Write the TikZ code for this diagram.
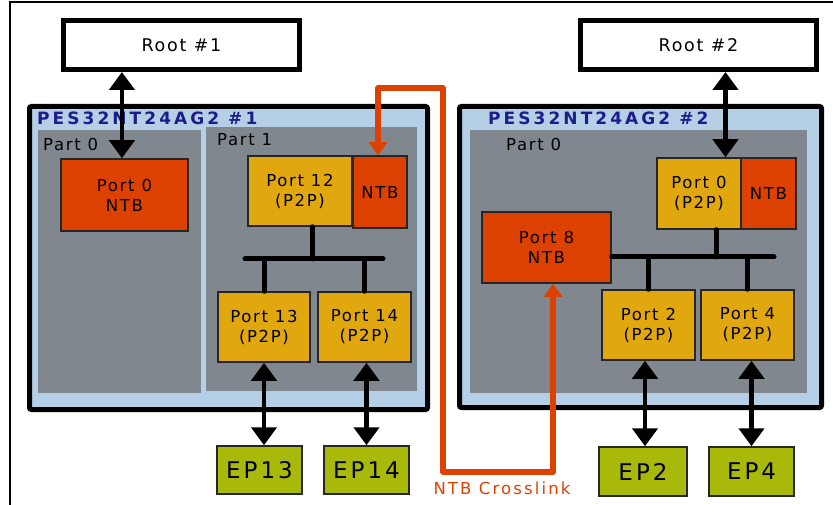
\documentclass[tikz,border=0pt]{standalone}
\usepackage{fontspec}
\usetikzlibrary{arrows.meta,calc}
\newfontfamily\df[LetterSpace=10]{DejaVu Sans}
\newfontfamily\dfw[LetterSpace=13]{DejaVu Sans}
\newfontfamily\tf[LetterSpace=18]{DejaVu Sans Bold}
\definecolor{chipblue}{RGB}{181,208,230}
\definecolor{partgray}{RGB}{128,135,143}
\definecolor{ntbc}{RGB}{221,65,0}
\definecolor{p2pc}{RGB}{224,168,14}
\definecolor{epc}{RGB}{168,185,10}
\definecolor{navy}{RGB}{28,28,140}
\tikzset{
  box/.style={draw=black!85, line width=1.5pt, inner sep=0pt, align=center,
    font=\df\fontsize{16.5}{20}\selectfont},
  ntbbox/.style={box, fill=ntbc},
  p2pbox/.style={box, fill=p2pc},
  epbox/.style={box, fill=epc, font=\dfw\fontsize{23}{26}\selectfont},
  rootbox/.style={draw=black, line width=5pt, fill=white, inner sep=0pt,
    minimum width=236pt, minimum height=49pt, font=\df\fontsize{17.5}{20}\selectfont},
  chipbox/.style={draw=black, line width=5pt, fill=chipblue, rounded corners=2pt, inner sep=0pt},
  partbox/.style={fill=partgray, inner sep=0pt},
  chiptitle/.style={anchor=west, inner sep=0pt, text=navy, font=\tf\fontsize{17}{20}\selectfont},
  parttitle/.style={anchor=west, inner sep=0pt, font=\df\fontsize{16.5}{20}\selectfont},
  biarrow/.style={line width=4.5pt, {Triangle[width=25pt,length=18pt]}-{Triangle[width=25pt,length=18pt]}},
  bus/.style={line width=5pt, line cap=round},
  xlink/.style={draw=ntbc, line width=5.5pt, line join=round,
    {Triangle[width=18pt,length=13pt]}-{Triangle[width=18pt,length=13pt]}},
  framel/.style={line width=2.5pt}
}
\begin{document}
\begin{tikzpicture}[x=1pt,y=-1pt]
\useasboundingbox (0,0) rectangle (833,505);
% outer frame
\coordinate (fTL) at (10,2);
\coordinate (fTR) at (833,2);
\coordinate (fBL) at (10,505);
\draw[framel] (fBL) -- (fTL) -- (fTR);

% roots
\node[rootbox] (root1) at (181.5,45) {Root \#1};
\node[rootbox] (root2) at (698.5,45) {Root \#2};

% chips
\node[chipbox, minimum width=398pt, minimum height=303pt] (chip1) at (228.5,258) {};
\node[chipbox, minimum width=362pt, minimum height=301pt] (chip2) at (640.5,257) {};
\node[partbox, minimum width=163pt, minimum height=263pt] (part0a) at (119.5,261.5) {};
\node[partbox, minimum width=211pt, minimum height=264pt] (part1a) at (311.5,259) {};
\node[partbox, minimum width=337pt, minimum height=263pt] (part0b) at (638.5,261.5) {};
\node[chiptitle] (title1) at (37,118) {PES32NT24AG2 \#1};
\node[chiptitle] (title2) at (488,118) {PES32NT24AG2 \#2};
\node[parttitle] (lp0a) at (43,144) {Part 0};
\node[parttitle] (lp1a) at (217,140) {Part 1};
\node[parttitle] (lp0b) at (506,144) {Part 0};

% chip 1 ports
\node[ntbbox, minimum width=127pt, minimum height=72pt] (p0a) at (124.5,195) {Port 0\\NTB};
\node[p2pbox, minimum width=104pt, minimum height=70pt] (p12) at (300,191) {Port 12\\(P2P)};
\node[ntbbox, minimum width=54pt, minimum height=72pt] (ntb1) at (380,192) {NTB};
\node[p2pbox, minimum width=92pt, minimum height=70pt] (p13) at (264,327) {Port 13\\(P2P)};
\node[p2pbox, minimum width=93pt, minimum height=70pt] (p14) at (364.5,327) {Port 14\\(P2P)};
\node[epbox, minimum width=85pt, minimum height=48pt] (ep13) at (259.5,470) {EP13};
\node[epbox, minimum width=85pt, minimum height=48pt] (ep14) at (366.5,470) {EP14};

% chip 2 ports
\node[p2pbox, minimum width=84pt, minimum height=71pt] (p0b) at (699,193.5) {Port 0\\(P2P)};
\node[ntbbox, minimum width=55pt, minimum height=71pt] (ntb2) at (768.5,193.5) {NTB};
\node[ntbbox, minimum width=129pt, minimum height=71pt] (p8) at (546.5,247.5) {Port 8\\NTB};
\node[p2pbox, minimum width=93pt, minimum height=70pt] (p2) at (648.5,325) {Port 2\\(P2P)};
\node[p2pbox, minimum width=93pt, minimum height=70pt] (p4) at (747.5,325) {Port 4\\(P2P)};
\node[epbox, minimum width=88pt, minimum height=49pt] (ep2) at (643,471.5) {EP2};
\node[epbox, minimum width=85pt, minimum height=49pt] (ep4) at (751.5,471.5) {EP4};

% buses chip 1
\coordinate (b1L) at (245,259);
\coordinate (b1R) at (383,259);
\coordinate (s12) at ($(p12.south west)!0.615!(p12.south east)$);
\draw[bus] (b1L) -- (b1R);
\draw[bus] (s12) -- (s12 |- b1L);
\draw[bus] (p13.north) -- (p13.north |- b1L);
\draw[bus] (p14.north) -- (p14.north |- b1L);

% buses chip 2
\coordinate (b2R) at (774,257);
\coordinate (s0b) at ($(p0b.south west)!0.70!(p0b.south east)$);
\draw[bus] (p8.east |- b2R) -- (b2R);
\draw[bus] (s0b) -- (s0b |- b2R);
\draw[bus] (p2.north) -- (p2.north |- b2R);
\draw[bus] (p4.north) -- (p4.north |- b2R);

% links
\coordinate (a1) at ($(p0a.north west)!0.48!(p0a.north east)$);
\draw[biarrow] (root1.south -| a1) -- (a1);
\coordinate (a2) at ($(p0b.north west)!0.81!(p0b.north east)$);
\draw[biarrow] (root2.south -| a2) -- (a2);
\draw[biarrow] (p13.south) -- (p13.south |- ep13.north);
\draw[biarrow] (ep14.north |- p14.south) -- (ep14.north);
\coordinate (a3) at (645,0);
\draw[biarrow] (p2.south -| a3) -- (ep2.north -| a3);
\draw[biarrow] (ep4.north |- p4.south) -- (ep4.north);

% crosslink
\coordinate (xa) at (443,88);
\coordinate (xb) at (443,472);
\coordinate (xn) at (378,0);
\coordinate (s8) at ($(p8.south west)!0.55!(p8.south east)$);
\draw[xlink] (ntb1.north -| xn) |- (xa) -- (xb) -| (s8);
\node[inner sep=0pt, text=ntbc, font=\dfw\fontsize{16.5}{20}\selectfont] (xlabel) at (502,488) {NTB Crosslink};
\end{tikzpicture}
\end{document}
